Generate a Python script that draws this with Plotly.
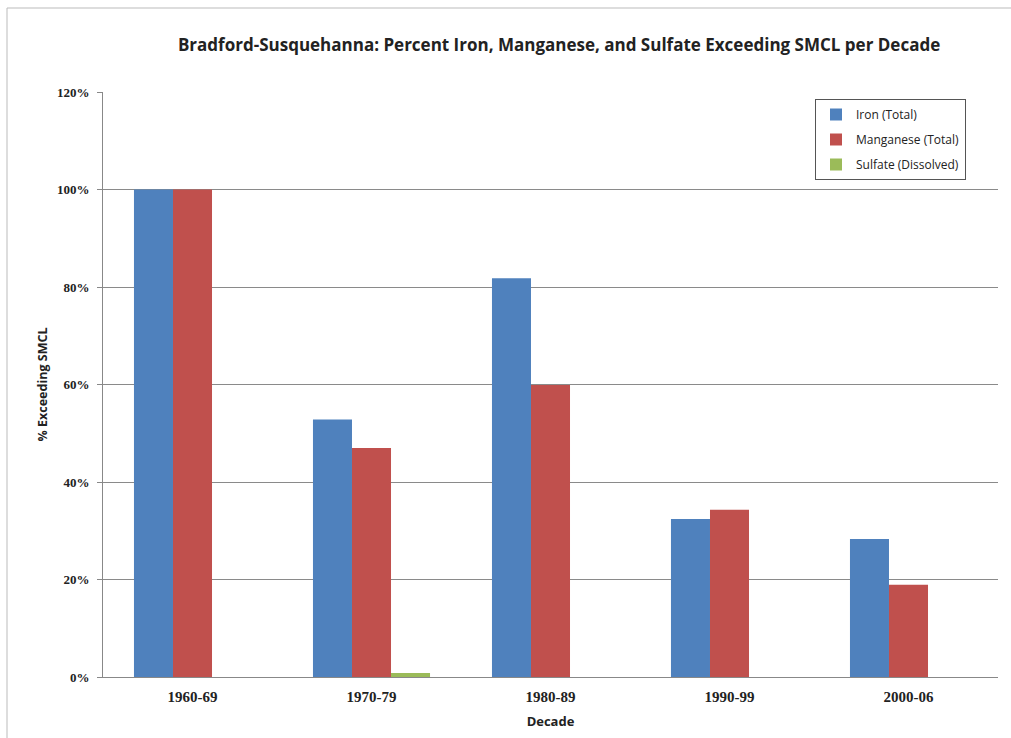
import plotly.graph_objects as go

decades = ["1960-69", "1970-79", "1980-89", "1990-99", "2000-06"]
iron = [100, 52.8, 81.8, 32.4, 28.3]
manganese = [100, 47.0, 59.9, 34.3, 18.9]
sulfate = [0, 0.8, 0, 0, 0]
y_ticks = [0, 20, 40, 60, 80, 100, 120]
y_tick_labels = ["0%", "20%", "40%", "60%", "80%", "100%", "120%"]

series = [
    ("Iron (Total)", iron, "#4F81BD"),
    ("Manganese (Total)", manganese, "#C0504D"),
    ("Sulfate (Dissolved)", sulfate, "#9BBB59"),
]

fig = go.Figure()
for i, (name, vals, col) in enumerate(series):
    fig.add_trace(go.Bar(
        x=decades, y=vals, name=name, marker_color=col,
        marker_line_width=0, legendgroup=str(i),
    ))

L, R, T, B = 103, 13, 92, 61
W, H = 1011, 738
pw = W - L - R
ph = H - T - B

fig.update_layout(
    width=W, height=H,
    margin=dict(l=L, r=R, t=T, b=B),
    paper_bgcolor="white", plot_bgcolor="white",
    barmode="group", bargap=0.346, bargroupgap=0,
    title=dict(
        text="<b>Bradford-Susquehanna: Percent Iron, Manganese, and Sulfate Exceeding SMCL per Decade</b>",
        x=0.553, xanchor="center", y=1 - 45 / H, yanchor="middle", yref="container",
        font=dict(family="Open Sans", size=17, color="#222"),
    ),
    legend=dict(
        x=(815 - L) / pw, y=(H - B - 99) / ph, xanchor="left", yanchor="top",
        bordercolor="#555", borderwidth=1, bgcolor="white",
        font=dict(family="Open Sans", size=12, color="#222"),
        tracegroupgap=6, itemwidth=30,
    ),
    xaxis=dict(
        type="category",
        showline=True, linecolor="#888", linewidth=1,
        ticks="", ticklabelstandoff=6,
        tickfont=dict(family="Liberation Serif", size=15, color="#222", weight="bold"),
        title=dict(text="<b>Decade</b>", font=dict(family="Open Sans", size=13, color="#222"), standoff=12),
    ),
    yaxis=dict(
        range=[0, 120], tickmode="array", tickvals=y_ticks, ticktext=y_tick_labels,
        showline=True, linecolor="#888", linewidth=1,
        showgrid=True, gridcolor="#8a8a8a", gridwidth=1,
        ticks="outside", ticklen=5, tickcolor="#888", ticklabelstandoff=5,
        tickfont=dict(family="Liberation Serif", size=13, color="#222", weight="bold"),
        title=dict(text="<b>% Exceeding SMCL</b>", font=dict(family="Open Sans", size=12.5, color="#222"), standoff=6),
        zeroline=False,
    ),
    shapes=[dict(
        type="rect", xref="paper", yref="paper",
        x0=(7 - L) / pw, x1=(W + 5 - L) / pw,
        y0=(H - B - (H + 5)) / ph, y1=(H - B - 8) / ph,
        line=dict(color="#bbbbbb", width=1), fillcolor="rgba(0,0,0,0)", layer="below",
    )],
)

fig.write_html("out.html")
